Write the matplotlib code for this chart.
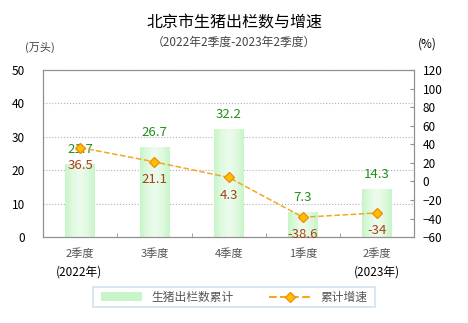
import numpy as np
import matplotlib.pyplot as plt
from matplotlib.lines import Line2D
from matplotlib.patches import Rectangle

plt.rcParams['font.family'] = ['Noto Sans CJK SC', 'DejaVu Sans']

quarters = ['2季度', '3季度', '4季度', '1季度', '2季度']
output = [21.7, 26.7, 32.2, 7.3, 14.3]      # 万头
growth = [36.5, 21.1, 4.3, -38.6, -34]      # %

bar_green = '#c8f5c8'
text_green = '#1f8f1f'
text_brown = '#a8401c'
line_orange = '#f5a623'

fig = plt.figure(figsize=(4.68, 3.23), dpi=100)
ax = fig.add_axes([0.092, 0.266, 0.793, 0.517])
ax2 = ax.twinx()

x = np.arange(len(quarters))
width = 0.4

# gradient bars: green edges, white middle
grad = np.linspace(-1, 1, 64)
grad = np.abs(grad) ** 1.5
cmap_img = np.zeros((1, 64, 4))
g = np.array([0.78, 0.96, 0.78])
for i in range(64):
    cmap_img[0, i, :3] = 1 - (1 - g) * (0.35 + 0.65 * grad[i])
    cmap_img[0, i, 3] = 1
for xi, v in zip(x, output):
    ax.imshow(cmap_img, extent=[xi - width / 2, xi + width / 2, 0, v],
              aspect='auto', zorder=2, interpolation='bilinear')
    ax.text(xi, v + 2.6, f'{v}', ha='center', va='bottom', color=text_green,
            fontsize=9.5, zorder=5)

ax.set_xlim(-0.5, len(quarters) - 0.5)
ax.set_ylim(0, 50)
ax.set_yticks(range(0, 51, 10))
ax.grid(axis='y', color='#b0b0b0', linestyle=':', linewidth=0.8, zorder=0)
ax.set_axisbelow(True)

ax2.plot(x, growth, linestyle='--', color=line_orange, linewidth=1.1,
         marker='D', markersize=5.5, markerfacecolor='#ffc000',
         markeredgecolor='#f09010', zorder=4)
for xi, v in zip(x, growth):
    ax2.text(xi, v - 12, f'{v:g}', ha='center', va='top', color=text_brown,
             fontsize=9.5, zorder=5)
ax2.set_ylim(-60, 120)
ax2.set_yticks(range(-60, 121, 20))

for a in (ax, ax2):
    for s in a.spines.values():
        s.set_color('#909090')
        s.set_linewidth(0.8)
ax.tick_params(axis='y', length=0, labelsize=8.5, pad=13)
ax2.tick_params(axis='y', length=3, direction='in', labelsize=8.5, pad=6,
                color='#909090')

ax.set_xticks(x)
ax.set_xticklabels(quarters, fontsize=8, color='#555555')
ax.tick_params(axis='x', length=0, pad=8)
ax.set_xticks(np.arange(0.5, len(quarters) - 1, 1), minor=True)
ax.tick_params(axis='x', which='minor', length=3, direction='in',
               color='#909090')

fig.text(0.5, 0.93, '北京市生猪出栏数与增速', ha='center', va='center',
         fontsize=11.5)
fig.text(0.5, 0.868, '（2022年2季度-2023年2季度）', ha='center', va='center',
         fontsize=8.5, color='#444444')
fig.text(0.086, 0.852, '(万头)', ha='center', va='center', fontsize=8,
         color='#444444')
fig.text(0.912, 0.865, '(%)', ha='center', va='center', fontsize=8.5)

fig.text(0.169, 0.158, '(2022年)', ha='center', va='center', fontsize=8.5)
fig.text(0.806, 0.158, '(2023年)', ha='center', va='center', fontsize=8.5)

# legend box
fig.patches.append(Rectangle((0.199, 0.048), 0.602, 0.062,
                             transform=fig.transFigure, fill=False,
                             edgecolor='#cfe3f5', linewidth=1.2))
handles = [Rectangle((0, 0), 1, 1, facecolor=bar_green, edgecolor='none'),
           Line2D([], [], linestyle='--', color=line_orange, marker='D',
                  markersize=5, markerfacecolor='#ffc000',
                  markeredgecolor='#f09010')]
fig.legend(handles, ['生猪出栏数累计', '累计增速'], loc='center',
           bbox_to_anchor=(0.5, 0.079), ncol=2, frameon=False, fontsize=8.5,
           handlelength=3.5, columnspacing=3, handleheight=0.8,
           labelcolor='#555555')

fig.savefig('out.png', dpi=100)
